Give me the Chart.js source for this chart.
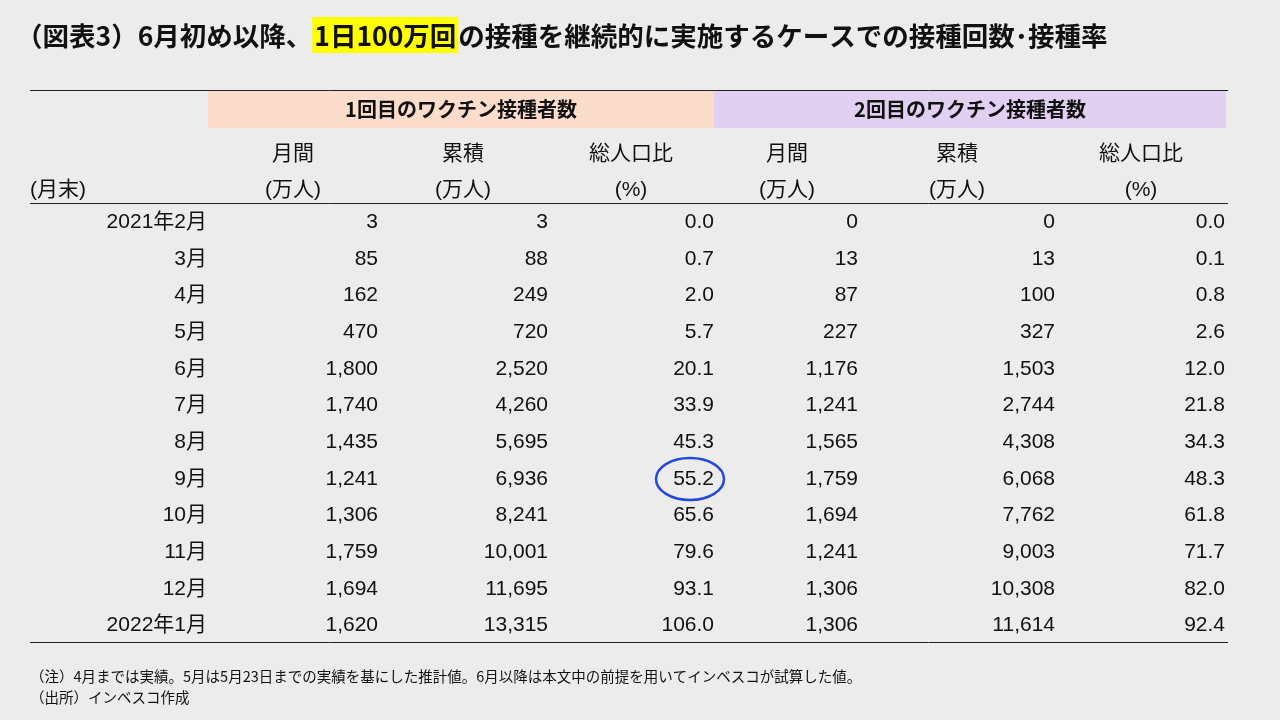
<!DOCTYPE html>
<html><head><meta charset="utf-8">
<script src="https://cdn.jsdelivr.net/npm/chart.js@4"></script>
<style>html,body{margin:0;padding:0;background:#ececec}#c{display:block}</style>
</head><body>
<div style="width:1280px;height:720px"><canvas id="c" width="1280" height="720"></canvas></div>
<script>
const months=["2021年2月","3月","4月","5月","6月","7月","8月","9月","10月","11月","12月","2022年1月"];
const first_monthly=["3","85","162","470","1,800","1,740","1,435","1,241","1,306","1,759","1,694","1,620"];
const first_cumul=["3","88","249","720","2,520","4,260","5,695","6,936","8,241","10,001","11,695","13,315"];
const first_pct=["0.0","0.7","2.0","5.7","20.1","33.9","45.3","55.2","65.6","79.6","93.1","106.0"];
const second_monthly=["0","13","87","227","1,176","1,241","1,565","1,759","1,694","1,241","1,306","1,306"];
const second_cumul=["0","13","100","327","1,503","2,744","4,308","6,068","7,762","9,003","10,308","11,614"];
const second_pct=["0.0","0.1","0.8","2.6","12.0","21.8","34.3","48.3","61.8","71.7","82.0","92.4"];
const groupHeaders=["1回目のワクチン接種者数","2回目のワクチン接種者数"];
const colHeads1=["月間","累積","総人口比","月間","累積","総人口比"];
const colHeads2=["(万人)","(万人)","(%)","(万人)","(万人)","(%)"];
const title=["（図表3）6月初め以降、","1日100万回","の接種を継続的に実施するケースでの接種回数･接種率"];
const notes=["（注）4月までは実績。5月は5月23日までの実績を基にした推計値。6月以降は本文中の前提を用いてインベスコが試算した値。","（出所）インベスコ作成"];
const colRight=[207,378,548,714,858,1055,1225];
const colCenter=[293,463,631,787,957,1141];
const cols=[months,first_monthly,first_cumul,first_pct,second_monthly,second_cumul,second_pct];
const JP='"Noto Sans CJK JP","Liberation Sans",sans-serif';
const NUM='"Liberation Sans","Noto Sans CJK JP",sans-serif';
const pts=[];cols.forEach((c,ci)=>c.forEach((v,ri)=>pts.push({x:colRight[ci],y:ri,t:v})));
const tablePlugin={id:'tbl',
beforeDraw(ch){const g=ch.ctx;g.save();g.fillStyle='#ececec';g.fillRect(0,0,ch.width,ch.height);g.restore();},
afterDraw(ch){const g=ch.ctx,xs=ch.scales.x,ys=ch.scales.y;g.save();
 g.font='bold 26.5px '+JP;g.textBaseline='middle';g.textAlign='left';let x=16;
 title.forEach((t,i)=>{const w=g.measureText(t).width;if(i===1){g.fillStyle='#ffff00';g.fillRect(x,17,w+4,36);x+=2;}g.fillStyle='#111';g.fillText(t,x,36);x+=w+(i===1?2:0);});
 g.fillStyle='#fcdccb';g.fillRect(xs.getPixelForValue(208),90,506,38);
 g.fillStyle='#e2d0f2';g.fillRect(xs.getPixelForValue(714),90,512,38);
 g.fillStyle='#111';g.font='bold 20px '+JP;g.textAlign='center';
 g.fillText(groupHeaders[0],461,109);g.fillText(groupHeaders[1],970,109);
 g.strokeStyle='#222';g.lineWidth=1;
 [90.5,203.5,642.5].forEach(y=>{g.beginPath();g.moveTo(30,y);g.lineTo(1228,y);g.stroke();});
 g.font='21px '+NUM;
 colHeads1.forEach((t,i)=>g.fillText(t,colCenter[i],154));
 colHeads2.forEach((t,i)=>g.fillText(t,colCenter[i],190));
 g.textAlign='left';g.fillText('(月末)',30,190);
 g.textAlign='right';g.font='21px '+NUM;
 ch.data.datasets[0].data.forEach(p=>{g.fillText(p.t,xs.getPixelForValue(p.x),ys.getPixelForValue(p.y)+1);});
 g.strokeStyle='#2448d8';g.lineWidth=2.5;g.beginPath();
 g.ellipse(690,ys.getPixelForValue(7)+1,34,21,0,0,Math.PI*2);g.stroke();
 g.fillStyle='#111';g.textAlign='left';g.font='14.5px '+JP;
 g.fillText(notes[0],30,676);g.fillText(notes[1],30,697);
 g.restore();}};
new Chart(document.getElementById('c'),{type:'scatter',
data:{datasets:[{data:pts,pointRadius:0,showLine:false}]},
options:{responsive:false,animation:false,devicePixelRatio:1,
layout:{padding:{top:203,bottom:77,left:0,right:0}},
plugins:{legend:{display:false},tooltip:{enabled:false}},
scales:{x:{type:'linear',min:0,max:1280,display:false},y:{type:'linear',min:-0.5,max:11.5,reverse:true,display:false}}},
plugins:[tablePlugin]});
</script></body></html>
